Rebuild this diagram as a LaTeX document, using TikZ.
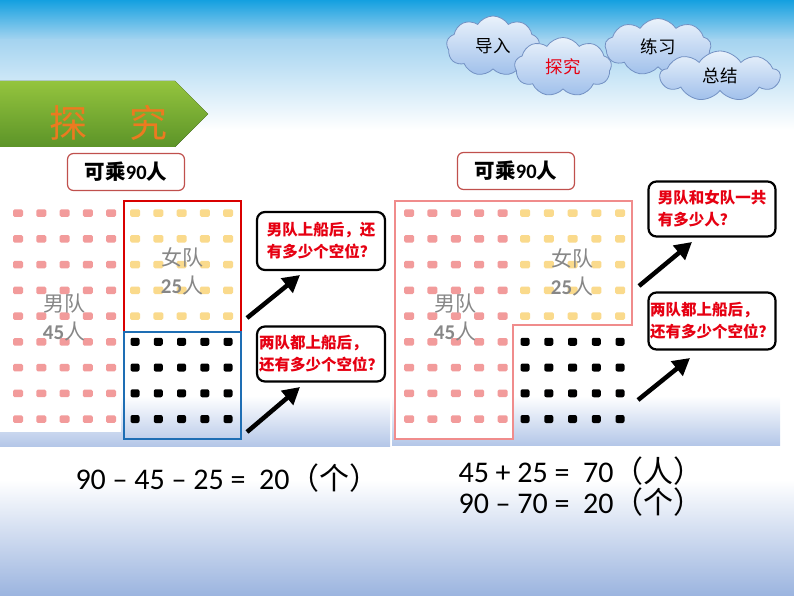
\documentclass[tikz,border=0pt]{standalone}
\usepackage{fontspec}
\setmainfont{Carlito}
\newfontfamily\cjk{Noto Sans CJK SC}
\usepackage{tikz}
\usetikzlibrary{positioning,shapes.symbols,arrows.meta}
\definecolor{skyblue}{RGB}{20,160,224}
\definecolor{paleblue}{RGB}{165,212,240}
\definecolor{floorblue}{RGB}{155,180,223}
\definecolor{panelblue}{RGB}{180,199,232}
\definecolor{grasstop}{RGB}{148,196,62}
\definecolor{grassbot}{RGB}{92,148,40}
\definecolor{tangerine}{RGB}{236,122,32}
\definecolor{boydot}{RGB}{242,155,155}
\definecolor{girldot}{RGB}{250,218,140}
\definecolor{boatred}{RGB}{192,80,77}
\definecolor{seatblue}{RGB}{30,110,180}
\definecolor{lpink}{RGB}{240,140,140}
\definecolor{cloudtop}{RGB}{234,242,251}
\definecolor{cloudbot}{RGB}{160,192,235}
\definecolor{cloudline}{RGB}{115,145,195}
\definecolor{asked}{RGB}{230,0,18}
\definecolor{teamgray}{RGB}{135,135,135}

\tikzset{
	seat/.style={rounded corners=1.5pt,minimum width=10pt,minimum height=7.5pt,inner sep=0pt},
	blackseat/.style={seat,fill=black,minimum width=9pt,minimum height=8pt,rounded corners=2pt},
	boatbox/.style={draw=boatred,line width=1.2pt,rounded corners=6pt,fill=white,minimum width=117pt,minimum height=37pt,font=\bfseries\fontsize{20.5}{24}\selectfont},
	askbox/.style={draw=black,line width=2.2pt,rounded corners=8pt,fill=white,minimum width=128pt,inner sep=1pt,align=left,text=asked,font=\cjk\bfseries\fontsize{15.5}{22}\selectfont},
	puff/.style={cloud,cloud puffs=9,cloud puff arc=115,draw=cloudline,thick,top color=cloudtop,bottom color=cloudbot,inner sep=0pt,font=\cjk\fontsize{17.5}{20}\selectfont},
	team/.style={text=teamgray,align=center,font=\fontsize{21}{28}\selectfont},
	bigarrow/.style={-{Triangle[length=17pt,width=18pt]},line width=4.5pt,black},
	sum/.style={anchor=west,font=\fontsize{30}{34}\selectfont}
}

\begin{document}
\begin{tikzpicture}[x=1pt,y=-1pt]
	\useasboundingbox (0,0) rectangle (794,596);
	
	% sky and floor
	\fill[top color=skyblue,bottom color=paleblue] (0,0) rectangle (794,40);
	\fill[top color=paleblue,bottom color=white] (0,40) rectangle (794,130);
	\fill[top color=white,bottom color=floorblue] (0,480) rectangle (794,596);
	
	% clouds
	\node[puff,minimum width=93pt,minimum height=60pt,aspect=1.55] (Intro) at (493,46) {导入};
	\node[puff,minimum width=106pt,minimum height=57pt,aspect=1.86] (Drill) at (658,47) {练习};
	\node[puff,minimum width=97pt,minimum height=59pt,aspect=1.64,text=asked] (Probe) at (563,67) {探究};
	\node[puff,minimum width=120pt,minimum height=50pt,aspect=2.4] (Recap) at (720,76) {总结};
	
	% banner
	\fill[top color=grasstop,bottom color=grassbot] (0,81) -- (175,81) -- (208,114) -- (175,147) -- (0,147) -- cycle;
	\node[text=tangerine,font=\cjk\fontsize{38}{40}\selectfont] (Tan) at (68,123) {探};
	\node[text=tangerine,font=\cjk\fontsize{38}{40}\selectfont] (Jiu) at (148,123) {究};
	
	% panels
	\fill[white] (0,196) rectangle (390,446);
	\fill[top color=white,bottom color=panelblue] (0,396) rectangle (390,446);
	\fill[white] (0,200) rectangle (121,432);
	\fill[white] (392,196) rectangle (780,445);
	\fill[top color=white,bottom color=panelblue] (392,396) rectangle (780,445);
	\draw[lpink,line width=1.2pt,fill=white] (395,201) -- (632,201) -- (632,325) -- (513,325) -- (513,439) -- (395,439) -- cycle;
	
	% left seats
	\foreach \c in {0,...,4}{
		\foreach \r in {0,...,8}
			\node[seat,fill=boydot] (lb\c\r) at ({18+23.25*\c},{213+25.75*\r}) {};
		\foreach \r in {0,...,4}
			\node[seat,fill=girldot] (lg\c\r) at ({135+23.25*\c},{213+25.75*\r}) {};
		\foreach \r in {5,...,8}
			\node[blackseat] (le\c\r) at ({135+23.25*\c},{213+25.75*\r}) {};
	}
	\draw[red!85!black,line width=1.4pt] (124,201) rectangle (241,332);
	\draw[seatblue,line width=1.4pt] (124,332) rectangle (241,439);
	
	% right seats
	\foreach \c in {0,...,4}{
		\foreach \r in {0,...,8}
			\node[seat,fill=boydot] (rb\c\r) at ({409+23.4*\c},{213+25.75*\r}) {};
		\foreach \r in {0,...,4}
			\node[seat,fill=girldot] (rg\c\r) at ({525+23.75*\c},{213+25.75*\r}) {};
		\foreach \r in {5,...,8}
			\node[blackseat] (re\c\r) at ({525+23.75*\c},{213+25.75*\r}) {};
	}
	
	% team labels
	\node[team] (LBoys) at (64,317) {{\cjk 男队}\\{\bfseries 45}{\cjk 人}};
	\node[team] (LGirls) at (182,271) {{\cjk 女队}\\{\bfseries 25}{\cjk 人}};
	\node[team] (RBoys) at (455,317) {{\cjk 男队}\\{\bfseries 45}{\cjk 人}};
	\node[team] (RGirls) at (572,272) {{\cjk 女队}\\{\bfseries 25}{\cjk 人}};
	
	% boat capacity
	\node[boatbox] (LBoat) at (126,172) {{\cjk 可乘}90{\cjk 人}};
	\node[boatbox] (RBoat) at (516,171) {{\cjk 可乘}90{\cjk 人}};
	
	% questions
	\node[askbox,minimum height=58pt] (LAskA) at (321,241) {男队上船后，还\\有多少个空位？};
	\node[askbox,minimum height=55pt] (LAskB) at (321,354) {两队都上船后，\\还有多少个空位？};
	\node[askbox,minimum height=55pt,minimum width=127pt] (RAskA) at (712,209) {男队和女队一共\\有多少人？};
	\node[askbox,minimum height=57pt,minimum width=127pt] (RAskB) at (712,321) {两队都上船后，\\还有多少个空位？};
	
	\coordinate (LFromA) at (247,318);
	\coordinate (LToA) at (300,275);
	\coordinate (LFromB) at (247,432);
	\coordinate (LToB) at (300,387);
	\coordinate (RFromA) at (639,286);
	\coordinate (RToA) at (692,242);
	\coordinate (RFromB) at (638,400);
	\coordinate (RToB) at (690,358);
	\draw[bigarrow] (LFromA) -- (LToA);
	\draw[bigarrow] (LFromB) -- (LToB);
	\draw[bigarrow] (RFromA) -- (RToA);
	\draw[bigarrow] (RFromB) -- (RToB);
	
	% sums
	\node[sum] (LSum) at (72,478) {90 – 45 – 25 = \ 20{\cjk （个）}};
	\node[sum] (RSumA) at (455,471) {45 + 25 = \ 70{\cjk （人）}};
	\node[sum] (RSumB) at (455,502) {90 – 70 = \ 20{\cjk （个）}};
	
\end{tikzpicture}
\end{document}
